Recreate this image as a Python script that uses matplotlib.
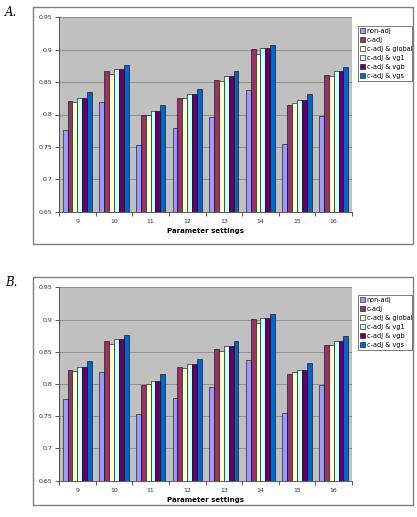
import matplotlib
matplotlib.use("Agg")
import matplotlib.pyplot as plt
import numpy as np
from matplotlib.patches import Rectangle

categories = ["9", "10", "11", "12", "13", "14", "15", "16"]
series_names = ["non-adj", "c-adj", "c-adj & global", "c-adj & vg1", "c-adj & vgb", "c-adj & vgs"]
non_adj = [0.776, 0.819, 0.753, 0.779, 0.796, 0.838, 0.755, 0.798]
c_adj = [0.821, 0.867, 0.799, 0.826, 0.854, 0.901, 0.815, 0.861]
c_adj_global = [0.820, 0.862, 0.800, 0.825, 0.851, 0.894, 0.818, 0.860]
c_adj_vg1 = [0.826, 0.870, 0.805, 0.831, 0.859, 0.903, 0.822, 0.867]
c_adj_vgb = [0.826, 0.870, 0.805, 0.831, 0.859, 0.903, 0.822, 0.867]
c_adj_vgs = [0.835, 0.876, 0.815, 0.839, 0.867, 0.908, 0.832, 0.874]
series = [non_adj, c_adj, c_adj_global, c_adj_vg1, c_adj_vgb, c_adj_vgs]
colors = ["#9999FF", "#993366", "#FFFFCC", "#CCFFFF", "#660066", "#0066CC"]
yticks = [0.65, 0.7, 0.75, 0.8, 0.85, 0.9, 0.95]
ytick_labels = ["0.65", "0.7", "0.75", "0.8", "0.85", "0.9", "0.95"]
xlabel = "Parameter settings"
panel_labels = ["A.", "B."]

W, H = 417, 517
fig = plt.figure(figsize=(W / 100, H / 100), dpi=100)
fig.patch.set_facecolor("white")


def fx(px):
    return px / W


def fy(py):
    return 1 - py / H


def draw_panel(label, frame_top, frame_bot, ax_top, ax_bot, leg_top, leg_bot, label_y):
    # outer frame
    fig.patches.append(Rectangle((fx(33), fy(frame_bot)), fx(413) - fx(33), fy(frame_top) - fy(frame_bot),
                                 transform=fig.transFigure, fill=False, edgecolor="#808080", linewidth=1.0))
    fig.text(fx(5), fy(label_y), label, fontsize=8.5, family="DejaVu Serif", style="italic", va="center")
    ax = fig.add_axes([fx(59), fy(ax_bot), fx(352) - fx(59), fy(ax_top) - fy(ax_bot)])
    ax.set_facecolor("#C0C0C0")
    x = np.arange(len(categories))
    bw = 0.133
    n = len(series)
    for i, (vals, c, name) in enumerate(zip(series, colors, series_names)):
        ax.bar(x + (i - (n - 1) / 2) * bw, vals, width=bw, color=c, edgecolor="black",
               linewidth=0.4, label=name, zorder=3)
    ax.set_ylim(0.65, 0.95)
    ax.set_xlim(-0.5, len(categories) - 0.5)
    ax.set_yticks(yticks)
    ax.set_yticklabels(ytick_labels, fontsize=4.5, color="#333333")
    ax.set_xticks(x)
    ax.set_xticklabels(categories, fontsize=4.5, color="#333333")
    ax.set_xticks(np.arange(-0.5, len(categories)), minor=True)
    ax.tick_params(axis="x", which="major", length=0, pad=5)
    ax.tick_params(axis="x", which="minor", length=3, width=0.6, direction="out", color="#404040")
    ax.tick_params(axis="y", length=3, width=0.6, direction="out", color="#404040", pad=2)
    ax.yaxis.grid(True, color="#888888", linewidth=0.6, zorder=0)
    ax.set_axisbelow(True)
    for s in ["top", "right"]:
        ax.spines[s].set_visible(False)
    ax.spines["left"].set_color("#404040")
    ax.spines["bottom"].set_color("#404040")
    ax.spines["left"].set_linewidth(0.6)
    ax.spines["bottom"].set_linewidth(0.6)
    ax.set_xlabel(xlabel, fontsize=5, fontweight="bold", labelpad=3)
    # legend
    handles, labels = ax.get_legend_handles_labels()
    leg = fig.legend(handles, labels, loc="upper left",
                     bbox_to_anchor=(fx(357.7), fy(leg_top), fx(411.7) - fx(357.7), fy(leg_top) - fy(leg_bot)),
                     bbox_transform=fig.transFigure, mode="expand",
                     fontsize=4.7, frameon=True, fancybox=False, handlelength=0.8, handleheight=0.8,
                     handletextpad=0.3, labelspacing=0.45, borderpad=0.3, borderaxespad=0)
    leg.get_frame().set_edgecolor("#404040")
    leg.get_frame().set_linewidth(0.6)
    return ax


draw_panel(panel_labels[0], 7, 244, 17.3, 211.7, 85, 144, 13)
draw_panel(panel_labels[1], 276.7, 505, 287.3, 480.7, 354.3, 413.3, 282)

fig.savefig("out.png", dpi=100)
